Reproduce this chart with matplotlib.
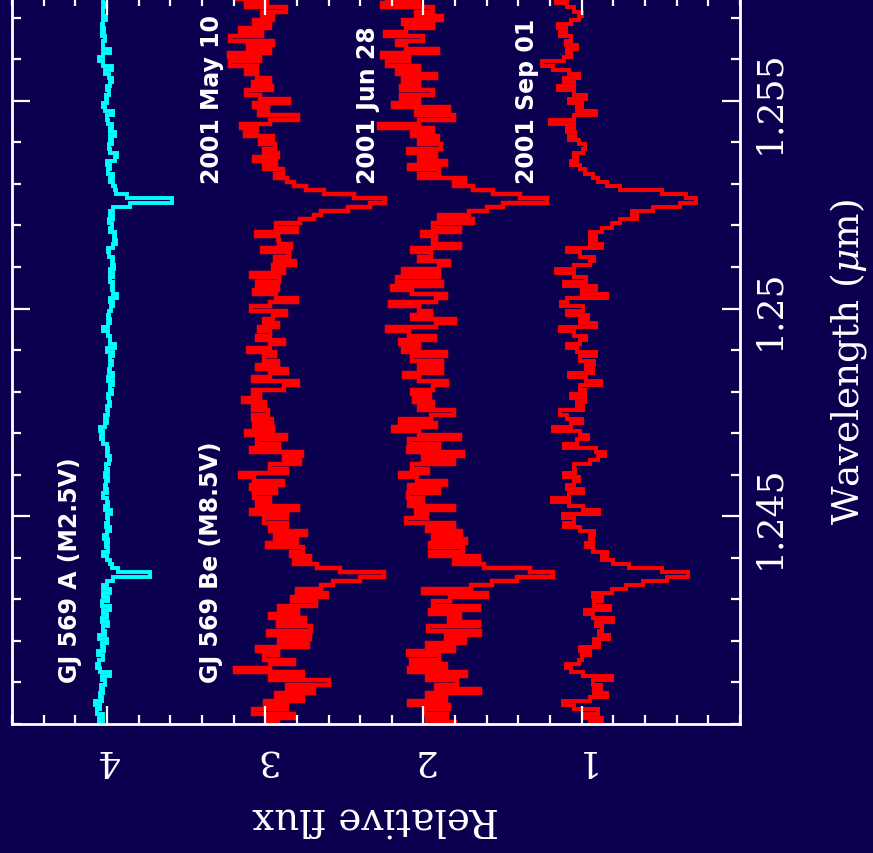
import numpy as np
import matplotlib
matplotlib.use("Agg")
import matplotlib.pyplot as plt
from matplotlib.ticker import FixedLocator, MultipleLocator

# ---------------- data ----------------
wave_start = 1.2400      # micron, first sample
wave_step = 0.0001       # micron, sampling
# normalised spectra (continuum ~1), sampled from 1.2400 to 1.2575 um
gj569a = [1.023,1.048,1.027,1.065,1.044,1.076,1.034,1.044,1.023,1.040,
          1.013,1.034,0.981,1.044,1.061,1.048,1.027,1.055,1.019,1.034,
          1.002,1.048,1.013,1.027,0.992,1.034,1.002,1.023,0.981,1.034,
          0.992,1.023,0.981,1.027,1.002,0.960,0.728,0.928,0.971,0.981,
          1.002,1.027,0.992,1.006,0.992,1.019,1.002,0.981,1.006,0.992,
          1.002,0.977,1.013,0.992,1.002,1.023,1.002,1.013,1.006,0.992,
          1.013,0.992,1.006,0.985,0.981,0.998,0.992,1.002,1.023,1.040,
          1.023,1.044,1.013,1.002,1.013,0.992,1.002,0.981,0.985,0.992,
          0.971,0.981,0.960,0.992,0.964,0.985,0.981,
          0.971,0.981,0.960,1.002,0.949,0.981,0.981,0.992,1.027,0.992,
          0.981,0.992,0.985,0.977,0.964,0.981,0.939,0.960,0.971,0.960,
          0.981,0.964,0.981,0.956,0.971,0.960,0.985,0.992,0.960,0.943,
          0.956,0.949,0.981,0.971,0.985,0.964,0.981,0.960,0.855,0.591,
          0.876,0.943,0.949,0.960,0.981,0.960,0.992,0.981,1.002,0.949,
          0.939,0.981,0.985,0.971,0.981,0.949,0.981,0.971,0.992,1.002,
          0.964,1.013,1.023,1.002,1.006,0.985,1.002,0.981,0.971,0.985,
          1.013,0.971,1.023,1.048,1.027,0.981,1.027,1.023,1.013,1.034,
          1.019,1.034,1.027,1.006,1.023,1.027,1.006,1.023,1.013]

gj569b_may10 = [0.92,0.98,0.82,1.08,0.86,1.00,0.76,0.93,0.69,0.86,
                0.60,0.97,0.76,1.19,0.97,0.82,1.01,0.92,1.05,0.73,
                0.91,0.72,0.98,0.71,0.92,0.75,0.97,0.79,0.91,0.68,
                0.83,0.61,0.80,0.65,0.57,0.40,0.25,0.53,0.67,0.82,
                0.72,0.84,0.76,0.99,0.80,0.94,0.74,0.97,0.86,1.01,
                0.86,1.09,0.79,1.05,0.97,1.07,0.93,1.09,0.89,1.07,
                1.16,0.86,0.97,0.78,0.88,0.77,1.09,0.91,1.05,0.87,
                1.12,0.95,1.07,0.96,1.08,0.98,1.08,1.00,1.14,1.03,
                1.08,0.88,0.79,1.08,0.97,0.86,1.05,0.92,1.01,0.94,
                1.11,0.97,0.88,1.05,0.97,1.04,0.92,1.01,0.95,0.87,
                1.09,0.97,0.80,0.93,1.07,0.92,1.05,0.91,1.09,0.88,
                0.95,0.81,0.94,0.85,1.02,0.84,0.91,
                0.92,1.06,0.80,0.93,0.78,0.69,0.65,0.48,0.34,0.24,
                0.44,0.63,0.74,0.82,0.86,0.94,0.89,1.01,0.93,1.07,
                0.92,1.01,0.94,1.03,0.95,1.13,1.05,1.15,0.97,0.79,
                1.04,0.98,1.07,0.85,1.03,1.12,0.96,1.08,0.97,1.05,
                1.12,1.05,1.22,1.03,1.23,0.97,1.11,0.95,1.22,1.02,
                1.16,0.97,1.07,0.95,1.02,0.87,1.12,0.99,1.20]

gj569b_jun28 = [0.80,0.98,0.85,0.99,0.84,1.09,0.86,0.98,0.64,0.92,
                0.79,0.98,0.73,1.09,0.86,1.08,0.90,1.10,0.81,0.98,
                0.74,0.86,0.64,0.97,0.65,0.84,0.77,0.96,0.65,0.94,
                0.83,0.60,1.00,0.70,0.57,0.41,0.18,0.33,0.62,0.81,
                0.65,0.96,0.75,0.96,0.73,0.94,0.76,0.98,0.81,1.11,
                0.98,1.05,0.81,1.09,1.00,1.10,0.90,1.09,0.86,1.04,
                1.15,0.97,1.07,0.81,1.00,0.75,1.10,0.90,1.09,0.77,
                1.03,1.19,0.92,1.15,0.95,0.81,1.03,0.94,1.06,0.96,
                1.07,0.94,0.85,1.03,1.12,0.88,1.03,0.88,1.07,0.86,
                1.13,1.03,1.15,0.93,1.09,1.23,0.92,0.80,1.07,0.95,
                1.03,1.21,0.92,0.86,1.07,1.20,0.88,1.17,0.90,1.13,
                0.90,0.84,1.03,0.95,1.07,0.77,0.94,
                0.92,1.01,0.77,0.94,0.69,0.90,0.71,0.60,0.50,0.22,
                0.39,0.56,0.69,0.81,0.74,1.03,0.90,1.09,0.86,1.03,
                0.92,1.10,0.89,1.03,0.91,1.07,0.94,1.28,1.03,0.81,
                1.05,0.84,1.19,1.03,1.14,0.94,1.14,1.03,1.13,0.92,
                1.17,1.03,1.23,1.09,1.26,0.91,1.11,1.17,1.00,1.24,
                1.11,0.94,1.13,0.88,1.05,0.94,1.26,1.03,1.24]

gj569b_sep01 = [0.95,0.87,0.99,0.90,1.05,1.12,0.95,0.84,0.92,0.88,
                0.93,0.81,0.99,1.07,1.10,1.02,1.00,0.95,1.01,0.89,
                0.92,0.83,0.89,0.87,0.91,0.80,0.93,0.98,0.82,0.92,
                0.87,0.93,0.81,0.72,0.61,0.46,0.33,0.49,0.70,0.80,
                0.87,0.84,0.93,0.97,0.93,0.95,0.92,1.01,1.11,1.05,
                1.12,0.89,0.99,1.08,1.19,1.08,0.99,1.09,1.05,1.02,
                1.11,1.04,1.05,0.95,0.90,0.85,0.91,1.11,1.03,0.96,
                1.01,1.18,1.07,1.00,1.09,1.14,0.99,1.03,0.98,1.07,
                0.98,1.01,0.88,0.97,1.08,0.93,0.97,0.92,1.01,0.91,
                1.03,1.09,1.01,0.97,1.05,1.14,0.91,1.01,0.96,1.09,
                0.99,1.13,1.09,0.84,1.00,0.91,1.11,0.97,1.05,1.16,
                1.05,0.95,0.92,1.01,1.09,0.87,0.95,
                0.91,0.95,0.87,0.81,0.76,0.65,0.68,0.55,0.38,0.28,
                0.34,0.49,0.76,0.84,0.90,0.93,0.98,1.01,1.07,1.03,
                1.05,0.99,0.98,1.02,1.08,1.04,1.09,1.05,1.20,1.05,
                0.91,1.03,1.00,1.08,0.97,1.05,1.15,1.05,1.11,1.02,
                1.08,1.18,1.25,1.11,1.07,1.09,1.03,1.10,1.07,1.14,
                1.10,1.15,1.07,1.02,1.00,1.05,1.09,1.16,1.08]

spectra = [gj569a, gj569b_may10, gj569b_jun28, gj569b_sep01]
spec_offsets = [3.0, 2.0, 1.0, 0.0]
spec_colors = ["#00ffff", "#ff0000", "#ff0000", "#ff0000"]
spec_widths = [2.8, 3.2, 3.2, 2.8]

label_texts = ["GJ 569 A (M2.5V)", "GJ 569 Be (M8.5V)",
               "2001 May 10", "2001 Jun 28", "2001 Sep 01"]
label_flux = [4.234, 3.345, 3.336, 2.350, 1.345]
label_wave = [1.24102, 1.24102, 1.25302, 1.25302, 1.25302]

flux_ticks = [1, 2, 3, 4]
flux_ticklabels = ["1", "2", "3", "4"]
wave_ticks = [1.245, 1.250, 1.255]
wave_ticklabels = ["1.245", "1.25", "1.255"]

# ---------------- plot ----------------
BG = "#0b0050"
plt.rcParams["font.family"] = ["DejaVu Serif"]
plt.rcParams["mathtext.fontset"] = "dejavuserif"

W, H = 873, 854
fig = plt.figure(figsize=(W / 100, H / 100), dpi=100, facecolor=BG)
ax = fig.add_axes([12 / W, (H - 725) / H, 728 / W, 727 / H], facecolor=BG)

n = len(gj569a)
edges = wave_start - wave_step / 2 + wave_step * np.arange(n + 1)
for spec, off, col, lw in zip(spectra, spec_offsets, spec_colors, spec_widths):
    ax.stairs(np.asarray(spec) + off, edges, orientation="horizontal",
              baseline=None, color=col, lw=lw)

for txt, fx, wv in zip(label_texts, label_flux, label_wave):
    ax.text(fx, wv, txt, rotation=90, ha="center", va="bottom",
            color="white", fontsize=17, family=["DejaVu Sans"],
            fontweight="bold")

ax.set_xlim(4.6, 0.0)
ax.set_ylim(1.2400, 1.2575)

for sp in ax.spines.values():
    sp.set_color("white")
    sp.set_linewidth(2)

ax.xaxis.set_major_locator(FixedLocator(flux_ticks))
ax.xaxis.set_minor_locator(MultipleLocator(0.2))
ax.set_xticklabels(flux_ticklabels)
ax.yaxis.set_major_locator(FixedLocator(wave_ticks))
ax.yaxis.set_minor_locator(MultipleLocator(0.001))
ax.set_yticklabels(wave_ticklabels)

ax.tick_params(which="both", direction="in", colors="white",
               top=True, bottom=True, left=True, right=True,
               labelleft=False, labelright=True, labelbottom=True, labeltop=False)
ax.tick_params(which="major", length=13, width=1.6)
ax.tick_params(which="minor", length=6.5, width=1.6)
ax.tick_params(axis="x", which="major", labelsize=26, pad=13, labelrotation=180)
ax.tick_params(axis="y", which="major", labelsize=26, pad=9, labelrotation=90)
for lab in ax.get_yticklabels():
    lab.set_va("center")

ax.set_xlabel("Relative flux", color="white", fontsize=28, rotation=180, labelpad=16)
ax.yaxis.set_label_position("right")
ax.set_ylabel(r"Wavelength ($\mu$m)", color="white", fontsize=27, rotation=90,
              labelpad=30)

fig.savefig("out.png", dpi=100, facecolor=BG)
